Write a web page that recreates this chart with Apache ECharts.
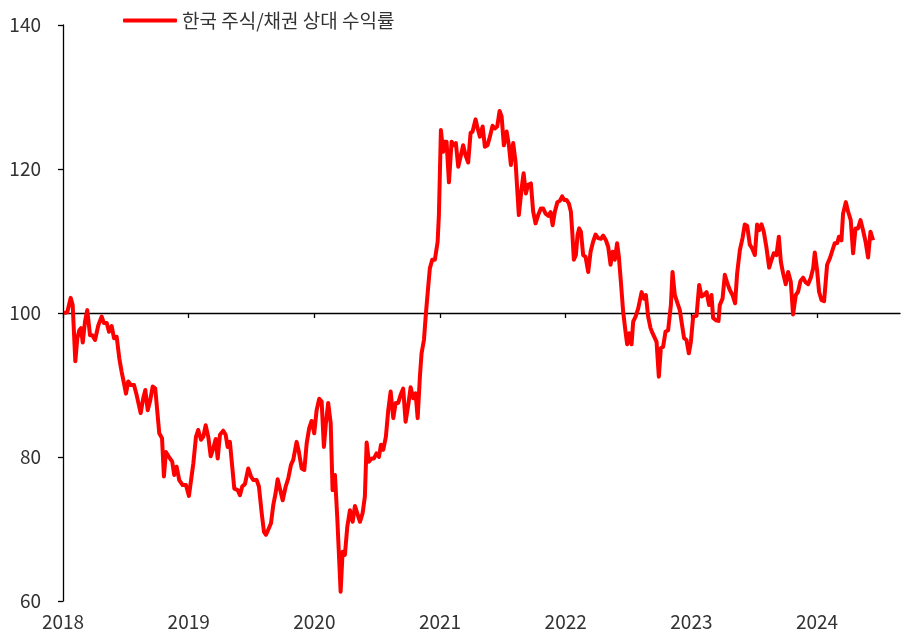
<!DOCTYPE html>
<html>
<head>
<meta charset="utf-8">
<script src="https://cdn.jsdelivr.net/npm/echarts@6/dist/echarts.min.js"></script>
<style>
html,body{margin:0;padding:0;background:#fff;}
#chart{width:902px;height:633px;}
</style>
</head>
<body>
<div id="chart"></div>
<script>
// Series name
var seriesName = '한국 주식/채권 상대 수익률';
// Time in decimal years
var times = [
2018.008,2018.034,2018.061,2018.077,2018.098,2018.114,2018.130,2018.143,2018.157,2018.175,
2018.193,2018.215,2018.233,2018.255,2018.281,2018.308,2018.326,2018.348,2018.366,2018.387,
2018.406,2018.427,2018.448,2018.467,2018.488,2018.501,2018.519,2018.539,2018.565,2018.586,
2018.618,2018.639,2018.655,2018.674,2018.692,2018.714,2018.734,2018.766,2018.788,2018.803,
2018.819,2018.851,2018.869,2018.885,2018.904,2018.925,2018.952,2018.978,2019.002,2019.037,
2019.058,2019.076,2019.098,2019.116,2019.135,2019.156,2019.175,2019.196,2019.215,2019.231,
2019.249,2019.275,2019.294,2019.310,2019.328,2019.363,2019.390,2019.408,2019.426,2019.448,
2019.474,2019.496,2019.514,2019.541,2019.559,2019.581,2019.599,2019.615,2019.633,2019.655,
2019.673,2019.692,2019.708,2019.726,2019.748,2019.772,2019.792,2019.814,2019.832,2019.859,
2019.877,2019.899,2019.920,2019.939,2019.959,2019.978,2019.999,2020.018,2020.039,2020.058,
2020.076,2020.092,2020.110,2020.130,2020.145,2020.164,2020.182,2020.209,2020.225,2020.243,
2020.262,2020.283,2020.305,2020.323,2020.341,2020.363,2020.384,2020.402,2020.416,2020.434,
2020.456,2020.474,2020.495,2020.514,2020.530,2020.548,2020.569,2020.588,2020.607,2020.628,
2020.647,2020.667,2020.686,2020.707,2020.726,2020.747,2020.766,2020.787,2020.806,2020.822,
2020.840,2020.853,2020.872,2020.888,2020.906,2020.919,2020.938,2020.959,2020.981,2020.991,
2021.007,2021.025,2021.033,2021.052,2021.071,2021.092,2021.110,2021.126,2021.145,2021.166,
2021.184,2021.203,2021.224,2021.243,2021.259,2021.283,2021.299,2021.317,2021.339,2021.357,
2021.378,2021.397,2021.418,2021.437,2021.455,2021.474,2021.490,2021.508,2021.530,2021.548,
2021.564,2021.582,2021.601,2021.627,2021.649,2021.665,2021.683,2021.701,2021.723,2021.741,
2021.760,2021.781,2021.802,2021.821,2021.840,2021.861,2021.880,2021.896,2021.914,2021.934,
2021.954,2021.972,2021.988,2022.007,2022.025,2022.041,2022.052,2022.065,2022.081,2022.094,
2022.107,2022.121,2022.139,2022.158,2022.179,2022.198,2022.218,2022.238,2022.258,2022.280,
2022.298,2022.320,2022.338,2022.357,2022.373,2022.391,2022.409,2022.423,2022.439,2022.457,
2022.476,2022.489,2022.505,2022.524,2022.537,2022.556,2022.577,2022.604,2022.622,2022.638,
2022.656,2022.675,2022.691,2022.704,2022.723,2022.741,2022.757,2022.775,2022.794,2022.815,
2022.837,2022.850,2022.868,2022.890,2022.908,2022.926,2022.942,2022.961,2022.980,2022.996,
2023.014,2023.041,2023.062,2023.081,2023.099,2023.121,2023.141,2023.160,2023.173,2023.195,
2023.216,2023.226,2023.248,2023.266,2023.287,2023.306,2023.327,2023.348,2023.364,2023.386,
2023.407,2023.425,2023.444,2023.465,2023.483,2023.505,2023.523,2023.539,2023.558,2023.576,
2023.598,2023.619,2023.638,2023.656,2023.677,2023.696,2023.712,2023.730,2023.751,2023.770,
2023.791,2023.809,2023.831,2023.849,2023.868,2023.889,2023.910,2023.929,2023.950,2023.969,
2023.982,2024.000,2024.016,2024.035,2024.056,2024.080,2024.102,2024.123,2024.141,2024.160,
2024.175,2024.194,2024.207,2024.229,2024.247,2024.268,2024.287,2024.306,2024.326,2024.346,
2024.366,2024.386,2024.406,2024.425,2024.446
];
// Relative return values
var values = [
100.0,100.1,102.1,101.1,93.3,96.5,97.6,97.9,95.9,98.8,
100.4,96.9,96.9,96.25,98.3,99.5,98.6,98.6,97.4,98.2,
96.5,96.7,93.7,91.8,90.0,88.8,90.5,90.0,90.0,88.6,
86.1,88.2,89.3,86.5,87.7,89.8,89.5,83.3,82.6,77.3,
80.7,79.8,79.35,77.5,78.65,76.8,76.1,76.1,74.6,79.1,
82.8,83.75,82.4,82.8,84.4,82.8,80.1,81.2,82.5,79.8,
83.1,83.65,83.1,81.4,82.1,75.6,75.4,74.7,75.9,76.25,
78.4,77.3,76.8,76.8,75.9,72.2,69.6,69.2,69.9,70.8,
73.3,75.0,76.9,75.6,74.0,75.9,77.0,78.9,79.6,82.1,
80.7,78.4,78.2,81.9,84.0,85.0,83.3,86.5,88.1,87.7,
81.4,84.7,87.5,84.7,75.4,77.5,71.7,61.3,66.85,66.4,
70.3,72.6,71.0,73.2,72.2,71.0,72.2,74.5,82.0,79.35,
79.8,79.8,80.5,80.0,81.7,81.0,82.8,86.5,89.1,85.4,
87.5,87.5,88.6,89.5,84.9,87.2,89.7,88.15,88.85,85.4,
91.2,94.4,96.25,100.0,103.65,106.2,107.4,107.4,109.9,113.6,
125.4,122.4,123.8,123.8,118.15,123.8,123.3,123.6,120.3,121.9,
123.3,121.9,120.9,125.0,125.2,126.9,125.65,124.5,125.9,123.1,
123.3,124.5,126.0,125.65,125.9,128.05,127.3,123.3,125.2,123.3,
120.55,123.6,121.0,113.6,117.3,119.4,116.6,117.8,118.0,114.1,
112.45,113.6,114.5,114.5,113.8,113.5,114.0,112.2,114.1,115.4,
115.6,116.2,115.7,115.7,115.2,114.1,111.3,107.4,108.05,110.8,
111.75,111.3,108.05,107.8,105.7,108.5,109.9,110.9,110.4,110.3,
110.75,110.1,109.2,106.7,108.5,107.4,109.7,107.8,104.35,100.2,
97.4,95.65,97.2,95.65,98.8,99.5,100.65,102.9,102.0,102.5,
99.5,97.9,97.2,97.4,96.0,91.15,95.1,95.3,97.4,97.6,
101.1,105.7,102.5,101.35,100.4,98.3,96.5,96.25,94.4,96.0,
99.5,99.6,103.9,102.3,102.5,102.9,101.1,102.5,99.3,99.0,
98.9,101.1,102.0,105.3,104.1,103.2,102.5,101.35,105.5,108.75,
110.4,112.3,112.1,109.5,109.0,108.05,112.3,111.5,112.3,111.3,
109.0,106.3,107.4,108.3,108.05,110.6,107.1,105.5,104.0,105.7,
104.35,99.8,102.5,102.95,104.45,104.9,104.25,104.0,104.9,106.2,
108.4,106.0,102.95,101.8,101.65,106.7,107.6,108.75,109.7,109.7,
110.6,110.1,113.8,115.4,114.1,112.9,108.3,111.75,111.75,112.9,
111.5,109.9,107.7,111.3,110.1
];
// Axis ticks
var yearTicks = [2018, 2019, 2020, 2021, 2022, 2023, 2024];
var yTicks = [60, 80, 100, 120, 140];

var data = times.map(function (t, i) { return [t, values[i]]; });

var chart = echarts.init(document.getElementById('chart'), null, {renderer: 'canvas'});
var font = '"Noto Sans CJK KR", "Noto Sans", sans-serif';
var xMin = 2018, xMax = 2024.66;
var option = {
  animation: false,
  backgroundColor: '#ffffff',
  textStyle: {fontFamily: font},
  grid: {left: 63, right: 2, top: 25, bottom: 32},
  legend: {
    left: 118, top: 6,
    itemWidth: 54, itemHeight: 4,
    data: [{name: seriesName, icon: 'roundRect'}],
    textStyle: {fontSize: 19, color: '#333', fontFamily: font}
  },
  xAxis: [
    {
      type: 'value', min: xMin, max: xMax, interval: 1,
      position: 'bottom',
      axisLine: {show: false},
      axisTick: {show: false},
      splitLine: {show: false},
      axisLabel: {
        customValues: yearTicks,
        fontSize: 19, color: '#333', margin: 11, fontFamily: font,
        formatter: function (v) { return String(Math.round(v)); }
      }
    },
    {
      type: 'value', min: xMin, max: xMax, interval: 1,
      position: 'bottom', offset: -288,
      axisLine: {show: true, onZero: false, lineStyle: {color: '#000', width: 1.3}},
      axisTick: {show: true, customValues: yearTicks, length: 5, lineStyle: {color: '#000', width: 1.3}},
      splitLine: {show: false},
      axisLabel: {show: false}
    }
  ],
  yAxis: {
    type: 'value', min: 60, max: 140, interval: 20,
    axisLine: {show: true, lineStyle: {color: '#000', width: 1.3}},
    axisTick: {show: true, length: 5, lineStyle: {color: '#000', width: 1.3}},
    splitLine: {show: false},
    axisLabel: {customValues: yTicks, fontSize: 19, color: '#333', margin: 22, fontFamily: font}
  },
  series: [{
    name: seriesName,
    type: 'line',
    xAxisIndex: 0,
    data: data,
    showSymbol: false,
    symbol: 'none',
    lineStyle: {color: '#ff0000', width: 4, join: 'round'},
    itemStyle: {color: '#ff0000'},
    z: 3
  }]
};
chart.setOption(option);
</script>
</body>
</html>
